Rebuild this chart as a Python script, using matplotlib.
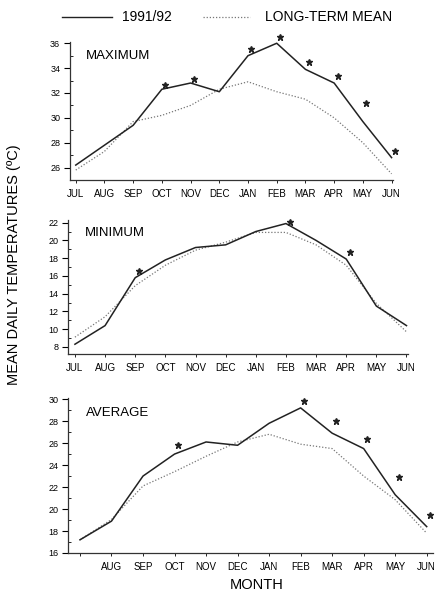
import numpy as np
import matplotlib
matplotlib.use("Agg")
import matplotlib.pyplot as plt
from matplotlib.lines import Line2D
from matplotlib.ticker import MultipleLocator

plt.rcParams['font.family'] = ['Liberation Sans', 'DejaVu Sans']

months = ["JUL", "AUG", "SEP", "OCT", "NOV", "DEC",
          "JAN", "FEB", "MAR", "APR", "MAY", "JUN"]

# maximum temperature
max_9192 = [26.2, 27.8, 29.4, 32.3, 32.8, 32.1, 35.0, 36.0, 33.9, 32.8, 29.7, 26.8]
max_mean = [25.8, 27.3, 29.7, 30.2, 31.0, 32.3, 32.9, 32.1, 31.5, 30.0, 28.0, 25.5]
max_star = [np.nan, np.nan, np.nan, 32.65, 33.1, np.nan, 35.5, 36.5, 34.5, 33.4, 31.2, 27.3]

# minimum temperature
min_9192 = [8.3, 10.4, 15.8, 17.8, 19.2, 19.5, 21.0, 21.9, 20.0, 17.9, 12.6, 10.4]
min_mean = [9.1, 11.4, 14.9, 17.2, 18.9, 19.8, 20.9, 20.9, 19.5, 17.2, 12.9, 9.7]
min_star = [np.nan, np.nan, 16.5, np.nan, np.nan, np.nan, np.nan, 22.1, np.nan, 18.7, np.nan, np.nan]

# average temperature
avg_9192 = [17.2, 18.9, 23.0, 25.0, 26.1, 25.8, 27.8, 29.2, 26.9, 25.5, 21.3, 18.4]
avg_mean = [17.2, 19.05, 22.1, 23.4, 24.8, 26.1, 26.8, 25.9, 25.5, 23.0, 20.85, 17.8]
avg_star = [np.nan, np.nan, np.nan, 25.8, np.nan, np.nan, np.nan, 29.8, 28.0, 26.35, 22.9, 19.45]

W, H = 440, 596
fig = plt.figure(figsize=(W / 100, H / 100), dpi=100)


def px_axes(left, top, right, bottom):
    return fig.add_axes([left / W, 1 - bottom / H, (right - left) / W, (bottom - top) / H])


panels = [
    dict(box=(70, 42, 393, 180), xlim=(-0.2, 11.05), ylim=(25, 36.1),
         yticks=np.arange(26, 37, 2), title="MAXIMUM",
         y1=max_9192, y2=max_mean, star=max_star, labels=months),
    dict(box=(68, 220, 408, 354), xlim=(-0.23, 11.05), ylim=(7.2, 22.3),
         yticks=np.arange(8, 23, 2), title="MINIMUM",
         y1=min_9192, y2=min_mean, star=min_star, labels=months),
    dict(box=(68, 398, 433, 553), xlim=(-0.38, 11.2), ylim=(16, 30.1),
         yticks=np.arange(16, 31, 2), title="AVERAGE",
         y1=avg_9192, y2=avg_mean, star=avg_star, labels=[""] + months[1:]),
]

x = np.arange(len(months))
for p in panels:
    ax = px_axes(*p["box"])
    ax.plot(x, p["y2"], color="#777777", lw=0.9, ls=(0, (1, 1.5)))
    ax.plot(x, p["y1"], color="#222222", lw=1.1)
    ax.plot(x + 0.12, p["star"], ls="none", marker="*", ms=4.5, color="#222222",
            clip_on=False)
    ax.set_xlim(*p["xlim"])
    ax.set_ylim(*p["ylim"])
    ax.set_xticks(x)
    ax.set_xticklabels(p["labels"], fontsize=7)
    ax.set_yticks(p["yticks"])
    ax.set_yticklabels([str(v) for v in p["yticks"]], fontsize=6.5)
    ax.yaxis.set_minor_locator(MultipleLocator(1))
    ax.tick_params(axis="y", which="major", length=4, width=0.8, pad=3)
    ax.tick_params(axis="y", which="minor", length=2, width=0.6, direction="in")
    ax.tick_params(axis="x", length=2.5, width=0.6, pad=4)
    for s in ("top", "right"):
        ax.spines[s].set_visible(False)
    for s in ("left", "bottom"):
        ax.spines[s].set_linewidth(0.9)
        ax.spines[s].set_color("#333333")
    ax.text(0.05, 0.9, p["title"], transform=ax.transAxes, fontsize=9.5,
            va="center", ha="left")

# legend
ly = 1 - 17 / H
fig.add_artist(Line2D([62 / W, 112 / W], [ly, ly], color="#222222", lw=1.0))
fig.text(122 / W, ly, "1991/92", fontsize=10, va="center", ha="left")
fig.add_artist(Line2D([203 / W, 250 / W], [ly, ly], color="#777777", lw=0.9,
                      ls=(0, (1, 1.5))))
fig.text(265 / W, ly, "LONG-TERM MEAN", fontsize=10, va="center", ha="left")

fig.text(14 / W, 1 - 265 / H, "MEAN DAILY TEMPERATURES (ºC)", rotation=90,
         fontsize=10.5, va="center", ha="center")
fig.text(257 / W, 1 - 585 / H, "MONTH", fontsize=10.5, va="center", ha="center")

fig.savefig("out.png", dpi=100)
